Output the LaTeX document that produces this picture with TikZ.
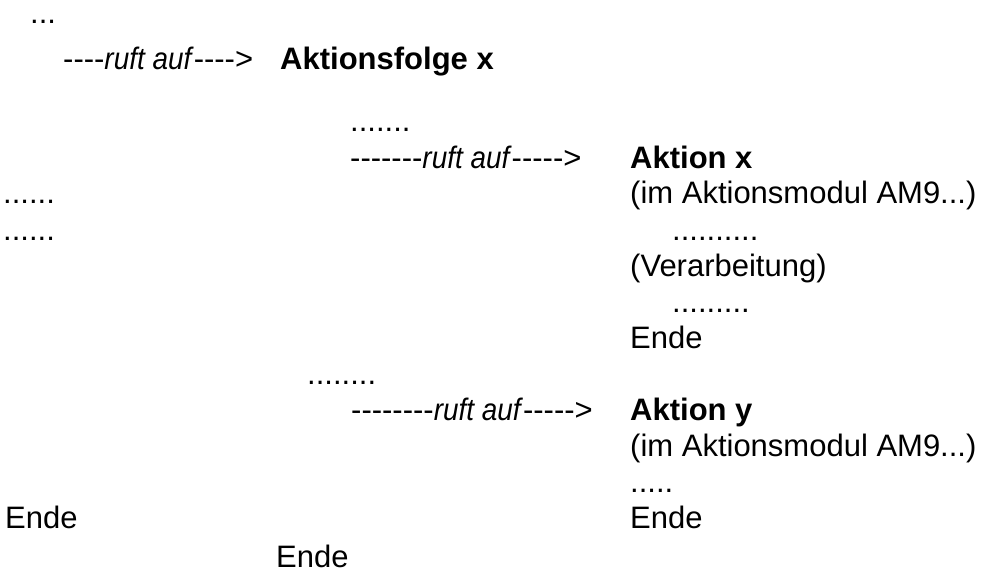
\documentclass[tikz,border=0pt]{standalone}
\usepackage{fontspec}
\newfontfamily\arl{Liberation Sans}[ItalicFeatures={FakeStretch=0.9}]
\begin{document}
\begin{tikzpicture}[x=1pt,y=-1pt,
  txt/.style={font=\arl\fontsize{31}{36}\selectfont, inner sep=0pt, anchor=base west},
  bold/.style={txt, font=\arl\bfseries\fontsize{31}{36}\selectfont}]
\useasboundingbox (0,0) rectangle (984,572);
\node[txt] (d1) at (30,24) {...};
\node[txt] (r1) at (63,70) {----\textit{ruft auf}---->};
\node[bold] (af) at (280,70) {Aktionsfolge x};
\node[txt] (d2) at (350,132) {.......};
\node[txt] (r2) at (350,168) {-------\textit{ruft auf}----->};
\node[bold] (ax) at (630,168) {Aktion x};
\node[txt] (l1) at (3,204) {......};
\node[txt] (m1) at (630,204) {(im Aktionsmodul AM9...)};
\node[txt] (l2) at (3,240) {......};
\node[txt] (d3) at (672,240) {..........};
\node[txt] (v) at (630,276) {(Verarbeitung)};
\node[txt] (d4) at (672,312) {.........};
\node[txt] (e1) at (630,348) {Ende};
\node[txt] (d5) at (307,384) {........};
\node[txt] (r3) at (351,420) {--------\textit{ruft auf}----->};
\node[bold] (ay) at (630,420) {Aktion y};
\node[txt] (m2) at (630,456) {(im Aktionsmodul AM9...)};
\node[txt] (d6) at (630,492) {.....};
\node[txt] (e2) at (5,528) {Ende};
\node[txt] (e3) at (630,528) {Ende};
\node[txt] (e4) at (276,567) {Ende};
\end{tikzpicture}
\end{document}
